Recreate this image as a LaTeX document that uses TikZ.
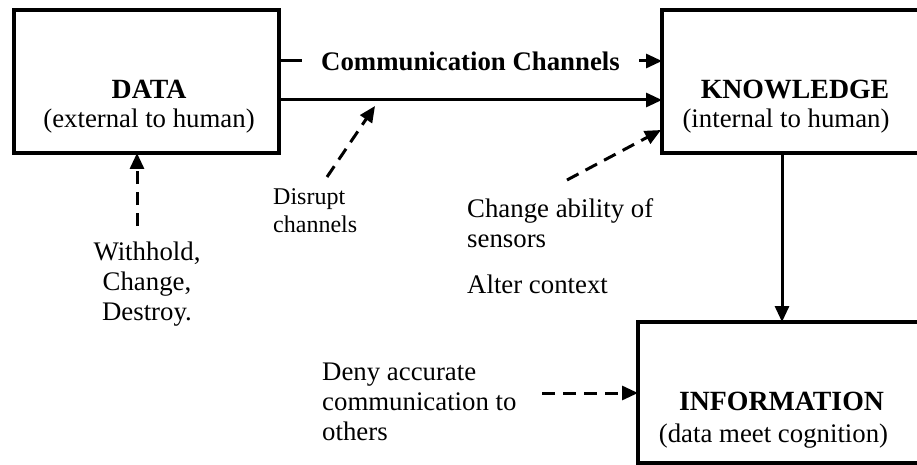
\documentclass[tikz,border=0pt]{standalone}
\usepackage{fontspec}
\setmainfont{Liberation Serif}
\usetikzlibrary{arrows.meta}
\tikzset{
  box/.style={draw, line width=3.5pt, inner sep=0pt, outer sep=0pt},
  arr/.style={line width=3pt, -{Triangle[length=16pt,width=14pt]}},
  darr/.style={arr, dash pattern=on 13pt off 8pt},
  reg/.style={inner sep=0pt, font=\fontsize{26.8}{30}\selectfont},
  small/.style={inner sep=0pt, font=\fontsize{24}{28}\selectfont},
  bold/.style={inner sep=0pt, font=\fontsize{27.8}{30}\selectfont\bfseries}
}
\begin{document}
\begin{tikzpicture}[x=1pt,y=-1pt]
\useasboundingbox (0,0) rectangle (917,465);
\clip (0,0) rectangle (917,465);
% boxes
\node[box, minimum width=265pt, minimum height=143pt] (data) at (146.5,81.5) {};
\node[box, minimum width=280pt, minimum height=143pt] (know) at (802,81.5) {};
\node[box, minimum width=300pt, minimum height=141pt] (info) at (788,392.5) {};
% box texts
\node[bold, anchor=base] (dataT) at (149,99) {DATA};
\node[reg, anchor=base] (dataS) at (149,128) {(external to human)};
\node[bold, anchor=base] (knowT) at (795,99) {KNOWLEDGE};
\node[reg, anchor=base] (knowS) at (786,128) {(internal to human)};
\node[bold, anchor=base] (infoT) at (781.5,410) {INFORMATION};
\node[reg, anchor=base] (infoS) at (773.5,442) {(data meet cognition)};
% channels
\coordinate (yc) at (0,61);
\coordinate (ys) at (0,100);
\draw[arr] (data.east |- yc) -- (know.west |- yc)
  node[midway, fill=white, inner xsep=19pt, inner ysep=4pt, font=\fontsize{26.8}{30}\selectfont\bfseries] (comm) {Communication Channels};
\draw[arr] (data.east |- ys) -- (know.west |- ys);
\draw[arr] (know.south -| 782,0) -- (info.north -| 782,0);
% attack labels (base = last line)
\node[reg, anchor=base, align=center] (with) at (147,320) {Withhold,\\Change,\\Destroy.};
\node[small, anchor=base west, align=left] (disr) at (273,232) {Disrupt\\channels};
\node[reg, anchor=base west, align=left] (chg) at (467,247) {Change ability of\\sensors};
\node[reg, anchor=base west] (alt) at (467,293) {Alter context};
\node[reg, anchor=base west, align=left] (deny) at (322,440) {Deny accurate\\communication to\\others};
% dashed attack arrows
\coordinate (wt) at (137,226);
\coordinate (dt) at (327,177);
\coordinate (dh) at (375,106);
\coordinate (ct) at (567,180);
\coordinate (ch) at (661,130);
\coordinate (nt) at (542,393);
\draw[darr] (wt) -- (wt |- data.south);
\draw[darr] (dt) -- (dh);
\draw[darr] (ct) -- (ch);
\draw[darr] (nt) -- (nt -| info.west);
\end{tikzpicture}
\end{document}
